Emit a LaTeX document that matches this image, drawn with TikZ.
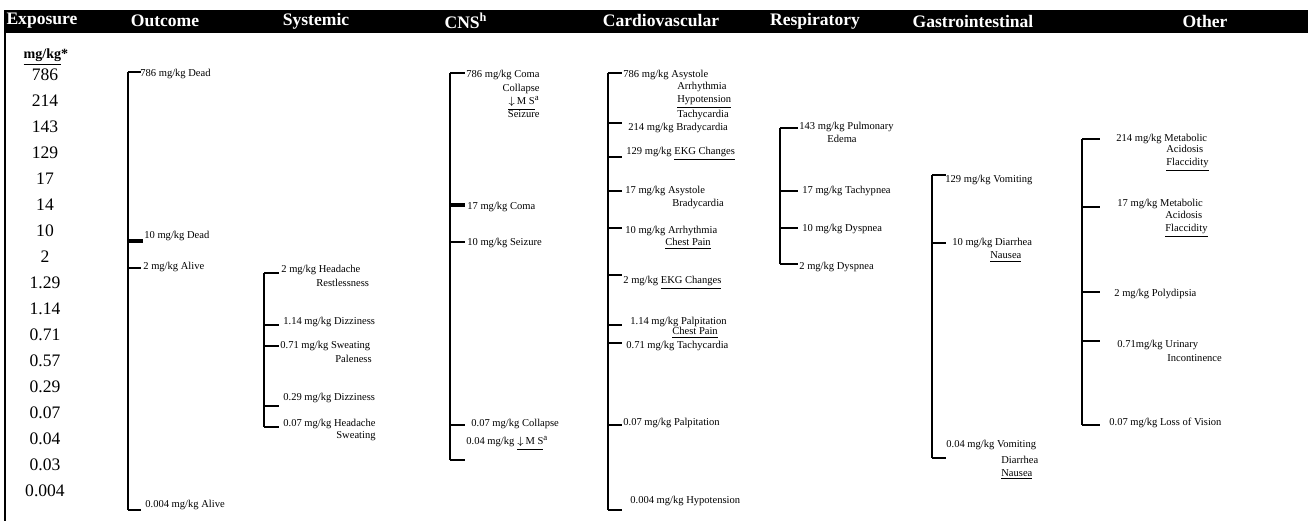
\documentclass[tikz,border=0pt]{standalone}
\usepackage{fontspec}
\setmainfont{Liberation Serif}
\usetikzlibrary{calc, positioning}
\tikzset{
    head/.style={text=white, inner sep=0pt, font=\fontsize{10}{12}\selectfont\bfseries},
    dose/.style={inner sep=0pt, font=\fontsize{10}{12}\selectfont},
    item/.style={anchor=west, inner sep=0pt, font=\fontsize{6}{7.3}\selectfont},
    more/.style={item, align=left},
    brace/.style={line width=0.9pt},
    heavy/.style={line width=1.8pt},
}
\newcommand{\dms}{\underline{$\downarrow$\,M S}\textsuperscript{a}}

\begin{document}
\begin{tikzpicture}[x=0.02cm, y=-0.02cm]
    \useasboundingbox (0,0) rectangle (1310,523);
    % header bar and frame
    \fill (4,10) rectangle (1308,33);
    \draw[line width=1.2pt] (5,33) -- (5,521);
    \foreach \x/\t [count=\i] in {42/Exposure, 165/Outcome, 316/Systemic, 466/CNS\textsuperscript{h},
        661/Cardiovascular, 815/Respiratory, 973/Gastrointestinal, 1205/Other}
        \node[head] (h\i) at (\x,21) {\t};

    % exposure scale
    \node[dose, font=\fontsize{8}{10}\selectfont\bfseries] (unit) at (46,57) {\underline{mg/kg}*};
    \foreach \v [count=\i from 0] in {786,214,143,129,17,14,10,2,1.29,1.14,0.71,0.57,0.29,0.07,0.04,0.03,0.004}
        \node[dose] (e\i) at (45,{75+26*\i}) {\v};

    % outcome
    \draw[brace] (128,72) -- (128,510);
    \foreach \y in {72,268,510} \draw[brace] (128,\y) -- ++(13,0);
    \draw[heavy] (128,241) -- ++(15,0);
    \node[item] (o1) at (140,74) {786 mg/kg Dead};
    \node[item] (o2) at (144,236) {10 mg/kg Dead};
    \node[item] (o3) at (143,267) {2 mg/kg Alive};
    \node[item] (o4) at (145,505) {0.004 mg/kg Alive};

    % systemic
    \draw[brace] (264,273) -- (264,427);
    \foreach \y in {273,325,346,406,427} \draw[brace] (264,\y) -- ++(15,0);
    \node[item] (s1) at (281,270) {2 mg/kg Headache};
    \node[item] (s1b) at (316,283) {Restlessness};
    \node[item] (s2) at (283,322) {1.14 mg/kg Dizziness};
    \node[item] (s3) at (280,346) {0.71 mg/kg Sweating};
    \node[item] (s3b) at (335,359) {Paleness};
    \node[item] (s4) at (283,398) {0.29 mg/kg Dizziness};
    \node[item] (s5) at (283,424) {0.07 mg/kg Headache};
    \node[item] (s5b) at (336,436) {Sweating};

    % CNS
    \draw[brace] (450,73) -- (450,460);
    \foreach \y in {73,242,425,460} \draw[brace] (450,\y) -- ++(15,0);
    \draw[heavy] (450,205) -- ++(15,0);
    \node[item] (c1) at (466,75) {786 mg/kg Coma};
    \node[item, anchor=east, align=right] (c1b) at ($(c1.east)+(0,26)$) {Collapse\\\dms\\Seizure};
    \node[item] (c2) at (467,207) {17 mg/kg Coma};
    \node[item] (c3) at (467,243) {10 mg/kg Seizure};
    \node[item] (c4) at (471,424) {0.07 mg/kg Collapse};
    \node[item] (c5) at (466,443) {0.04 mg/kg \dms};

    % cardiovascular
    \draw[brace] (608,73) -- (608,510);
    \foreach \y in {73,123,157,191,228,275,325,343,425,510} \draw[brace] (608,\y) -- ++(14,0);
    \node[item] (v1) at (623,75) {786 mg/kg Asystole};
    \node[more] (v1b) at (677,101) {Arrhythmia\\\underline{Hypotension}\\Tachycardia};
    \node[item] (v2) at (628,128) {214 mg/kg Bradycardia};
    \node[item] (v3) at (626,154) {129 mg/kg \underline{EKG Changes}};
    \node[item] (v4) at (625,191) {17 mg/kg Asystole};
    \node[item] (v4b) at (672,204) {Bradycardia};
    \node[item] (v5) at (625,231) {10 mg/kg Arrhythmia};
    \node[item] (v5b) at (665,244) {\underline{Chest Pain}};
    \node[item] (v6) at (623,283) {2 mg/kg \underline{EKG Changes}};
    \node[item] (v7) at (630,322) {1.14 mg/kg Palpitation};
    \node[item] (v7b) at (672,333) {\underline{Chest Pain}};
    \node[item] (v8) at (626,346) {0.71 mg/kg Tachycardia};
    \node[item] (v9) at (623,423) {0.07 mg/kg Palpitation};
    \node[item] (v10) at (630,501) {0.004 mg/kg Hypotension};

    % respiratory
    \draw[brace] (780,128) -- (780,264);
    \foreach \y in {128,191,228,264} \draw[brace] (780,\y) -- ++(18,0);
    \node[item] (r1) at (799,127) {143 mg/kg Pulmonary};
    \node[item] (r1b) at (827,139) {Edema};
    \node[item] (r2) at (802,191) {17 mg/kg Tachypnea};
    \node[item] (r3) at (802,229) {10 mg/kg Dyspnea};
    \node[item] (r4) at (799,267) {2 mg/kg Dyspnea};

    % gastrointestinal
    \draw[brace] (932,175) -- (932,458);
    \foreach \y in {175,243,458} \draw[brace] (932,\y) -- ++(14,0);
    \node[item] (g1) at (945,180) {129 mg/kg Vomiting};
    \node[item] (g2) at (952,243) {10 mg/kg Diarrhea};
    \node[item] (g2b) at (990,257) {\underline{Nausea}};
    \node[item] (g3) at (946,445) {0.04 mg/kg Vomiting};
    \node[more] (g3b) at (1001,468) {Diarrhea\\\underline{Nausea}};

    % other
    \draw[brace] (1082,139) -- (1082,425);
    \foreach \y in {139,207,292,341,425} \draw[brace] (1082,\y) -- ++(18,0);
    \node[item] (t1) at (1116,139) {214 mg/kg Metabolic};
    \node[more] (t1b) at (1166,158) {Acidosis\\\underline{Flaccidity}};
    \node[item] (t2) at (1117,204) {17 mg/kg Metabolic};
    \node[more] (t2b) at (1165,224) {Acidosis\\\underline{Flaccidity}};
    \node[item] (t3) at (1114,294) {2 mg/kg Polydipsia};
    \node[item] (t4) at (1117,345) {0.71mg/kg Urinary};
    \node[item] (t4b) at (1167,358) {Incontinence};
    \node[item] (t5) at (1109,423) {0.07 mg/kg Loss of Vision};
\end{tikzpicture}
\end{document}
